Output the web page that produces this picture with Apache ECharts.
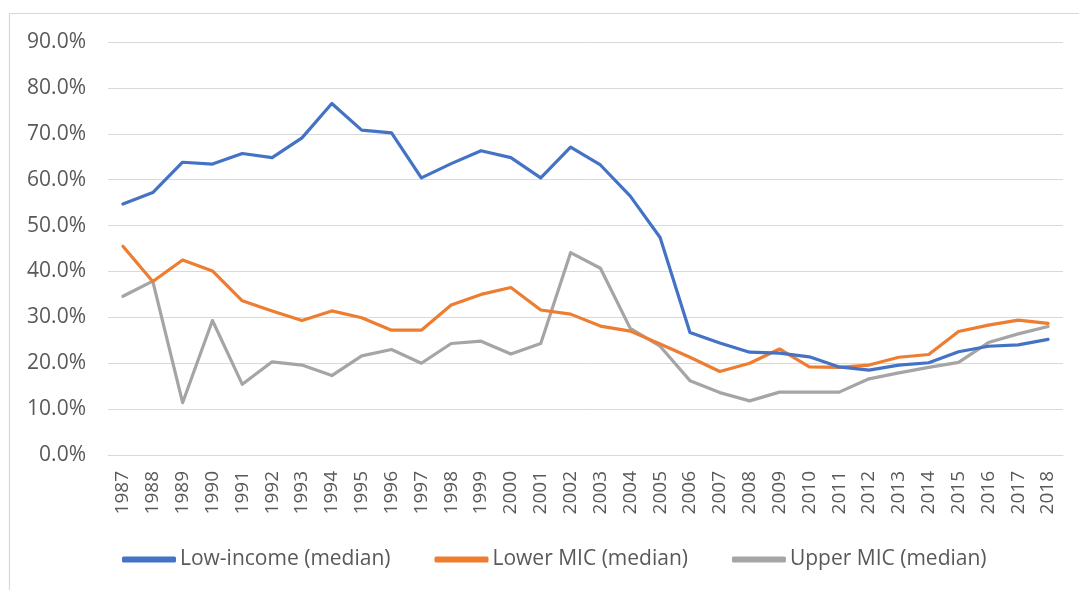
<!DOCTYPE html>
<html>
<head>
<meta charset="utf-8">
<script src="https://cdn.jsdelivr.net/npm/echarts@6/dist/echarts.min.js"></script>
<style>
  html, body { margin: 0; padding: 0; background: #fff; }
  #chart { width: 1079px; height: 590px; }
</style>
</head>
<body>
<div id="chart"></div>
<script>
// Años (eje X)
const years = [
  "1987", "1988", "1989", "1990", "1991", "1992", "1993", "1994", "1995", "1996",
  "1997", "1998", "1999", "2000", "2001", "2002", "2003", "2004", "2005", "2006",
  "2007", "2008", "2009", "2010", "2011", "2012", "2013", "2014", "2015", "2016",
  "2017", "2018"
];

// Valores en porcentaje
const lowIncome = [
  54.7, 57.2, 63.8, 63.4, 65.7, 64.8, 69.1, 76.6, 70.8, 70.2,
  60.4, 63.5, 66.3, 64.8, 60.4, 67.1, 63.2, 56.4, 47.4, 26.7,
  24.4, 22.4, 22.2, 21.4, 19.2, 18.5, 19.6, 20.1, 22.5, 23.7,
  24.0, 25.2
];
const lowerMIC = [
  45.5, 37.8, 42.5, 40.1, 33.6, 31.4, 29.3, 31.4, 29.9, 27.2,
  27.2, 32.7, 35.0, 36.5, 31.6, 30.7, 28.1, 27.0, 24.2, 21.3,
  18.2, 20.0, 23.1, 19.2, 19.1, 19.6, 21.3, 21.9, 26.9, 28.3,
  29.4, 28.7
];
const upperMIC = [
  34.6, 37.9, 11.4, 29.3, 15.4, 20.3, 19.6, 17.3, 21.6, 23.0,
  20.0, 24.3, 24.8, 22.0, 24.3, 44.1, 40.7, 27.6, 23.7, 16.2,
  13.6, 11.8, 13.7, 13.7, 13.7, 16.6, 17.9, 19.1, 20.2, 24.5,
  26.4, 28.0
];

const seriesNames = ["Low-income (median)", "Lower MIC (median)", "Upper MIC (median)"];
const seriesColors = ["#4472C4", "#ED7D31", "#A5A5A5"];
const seriesData = [lowIncome, lowerMIC, upperMIC];

const fontFamily = "'Open Sans', sans-serif";
const textColor = "#595959";

var myChart = echarts.init(document.getElementById("chart"));

var option = {
  backgroundColor: "#fff",
  animation: false,
  graphic: [
    {
      // borde del área del gráfico (arriba e izquierda)
      type: "polyline",
      shape: { points: [[9.5, 590], [9.5, 13.5], [1079, 13.5]] },
      style: { stroke: "#d9d9d9", lineWidth: 1.2, fill: null },
      silent: true,
    },
  ],
  grid: {
    left: 108,
    right: 16,
    top: 42,
    bottom: 135,
  },
  legend: {
    bottom: 15,
    left: 117,
    itemWidth: 54,
    itemHeight: 6,
    itemGap: 44,
    icon: "roundRect",
    selectedMode: false,
    textStyle: {
      color: textColor,
      fontSize: 21,
      fontFamily: fontFamily,
      padding: [0, 0, 0, -1],
    },
    data: seriesNames,
  },
  xAxis: {
    type: "category",
    data: years,
    boundaryGap: true,
    axisLine: { show: true, lineStyle: { color: "#d9d9d9", width: 1 } },
    axisTick: { show: false },
    axisLabel: {
      rotate: 90,
      margin: 16,
      interval: 0,
      color: textColor,
      fontSize: 19,
      fontFamily: fontFamily,
    },
  },
  yAxis: {
    type: "value",
    min: 0,
    max: 90,
    interval: 10,
    axisLine: { show: false },
    axisTick: { show: false },
    splitLine: { lineStyle: { color: "#d9d9d9", width: 1 } },
    axisLabel: {
      margin: 22,
      color: textColor,
      fontSize: 21,
      fontFamily: fontFamily,
      formatter: (v) => v.toFixed(1) + "%",
    },
  },
  series: seriesNames.map((name, i) => ({
    name: name,
    type: "line",
    data: seriesData[i],
    showSymbol: false,
    symbol: "none",
    z: 3 - i,
    itemStyle: { color: seriesColors[i] },
    lineStyle: { color: seriesColors[i], width: 3.2, join: "round", cap: "round" },
  })),
};

myChart.setOption(option);
</script>
</body>
</html>
